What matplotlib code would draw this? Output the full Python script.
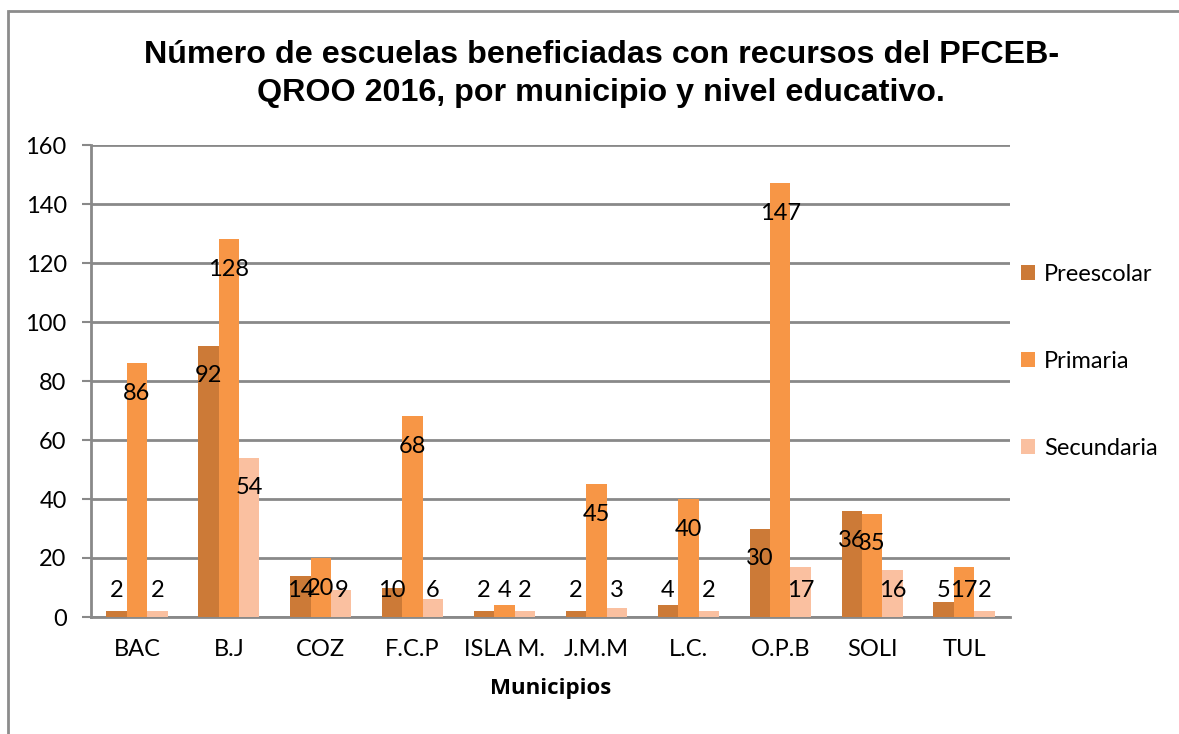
import matplotlib.pyplot as plt
import numpy as np
from matplotlib.lines import Line2D

# Datos
municipios = ["BAC", "B.J", "COZ", "F.C.P", "ISLA M.", "J.M.M", "L.C.", "O.P.B", "SOLI", "TUL"]
preescolar = [2, 92, 14, 10, 2, 2, 4, 30, 36, 5]
primaria = [86, 128, 20, 68, 4, 45, 40, 147, 35, 17]
secundaria = [2, 54, 9, 6, 2, 3, 2, 17, 16, 2]

series = [("Preescolar", preescolar, "#CC7A37"),
          ("Primaria", primaria, "#F79646"),
          ("Secundaria", secundaria, "#FAC0A0")]

label_font = "Lato"
fs = 17
grid_color = "#898989"

fig = plt.figure(figsize=(11.79, 7.34), dpi=100)
ax = fig.add_axes([91 / 1179, 1 - 617 / 734, (1010 - 91) / 1179, (617 - 145) / 734])

x = np.arange(len(municipios))
w = 1 / 4.5
for i, (name, vals, color) in enumerate(series):
    pos = x + (i - 1) * w
    ax.bar(pos, vals, width=w, color=color, label=name, zorder=3)
    # etiquetas "inside end", con minimo cerca de la base
    for px, v in zip(pos, vals):
        ax.text(px, max(v - 10.2, 9.1), str(v), ha="center", va="center",
                fontsize=fs, family=label_font, color="black", zorder=4)

ax.set_xlim(-0.5, len(municipios) - 0.5)
ax.set_ylim(0, 160)
ax.set_yticks(range(0, 161, 20))
ax.set_xticks(x)
ax.set_xticklabels(municipios)
ax.yaxis.grid(True, color=grid_color, linewidth=2, zorder=0)
ax.set_axisbelow(True)

for s in ["top", "right"]:
    ax.spines[s].set_visible(False)
ax.spines["left"].set_color(grid_color)
ax.spines["left"].set_linewidth(2)
ax.spines["bottom"].set_color(grid_color)
ax.spines["bottom"].set_linewidth(2)

ax.tick_params(axis="y", length=6.5, width=1.5, color=grid_color, pad=11, labelsize=fs)
ax.tick_params(axis="x", length=0, pad=16, labelsize=fs)
for lab in ax.get_xticklabels() + ax.get_yticklabels():
    lab.set_family(label_font)

ax.set_xlabel("Municipios", fontsize=16, fontweight="bold", family="Open Sans", labelpad=13)

leg = ax.legend(loc="center left", bbox_to_anchor=(1.0, 0.542), frameon=False,
                prop={"family": label_font, "size": fs}, handlelength=0.6,
                handleheight=0.6, handletextpad=0.4, labelspacing=2.8,
                borderaxespad=0.0, borderpad=0.45)

fig.text(0.51, 0.899, "Número de escuelas beneficiadas con recursos del PFCEB-\nQROO 2016, por municipio y nivel educativo.",
         ha="center", va="center", fontsize=23.2, fontweight="bold",
         family="Liberation Sans", linespacing=1.32)

# marco del grafico
fig.add_artist(Line2D([10 / 1179, 1], [1 - 11 / 734, 1 - 11 / 734], color="#8c8c8c", linewidth=2,
                      transform=fig.transFigure))
fig.add_artist(Line2D([8 / 1179, 8 / 1179], [0, 1 - 11 / 734], color="#8c8c8c", linewidth=2,
                      transform=fig.transFigure))

fig.savefig("out.png", dpi=100)
